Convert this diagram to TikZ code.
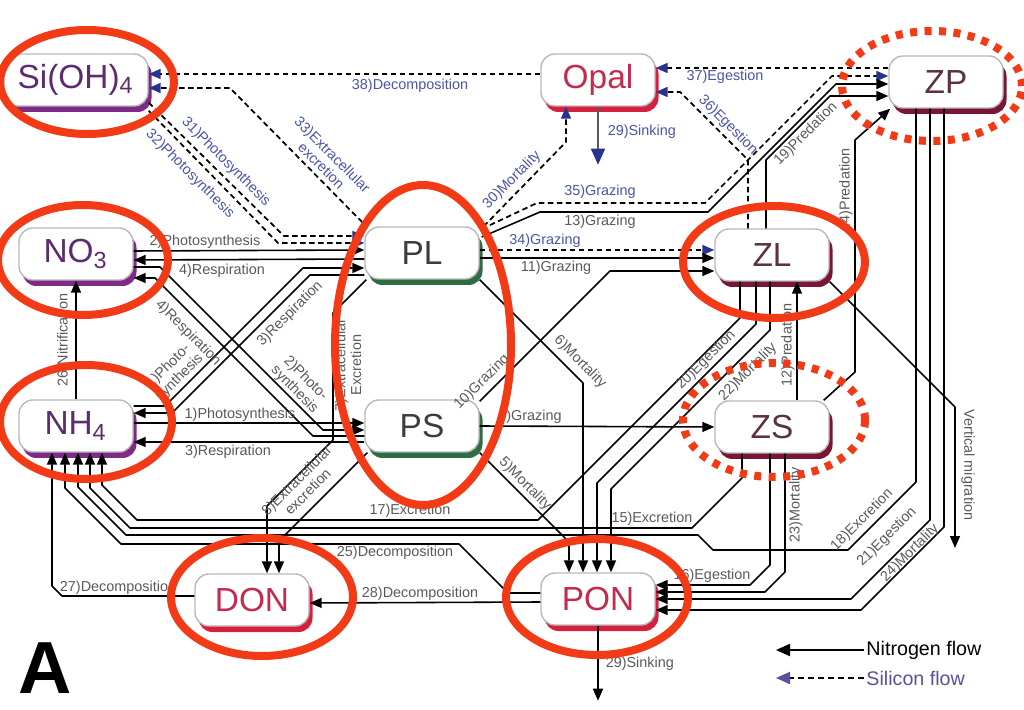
\documentclass[tikz,border=0pt]{standalone}
\usepackage{fontspec}
\setmainfont{Liberation Sans}
\usetikzlibrary{arrows.meta,calc,shadows}

\definecolor{hlred}{HTML}{F23B16}
\definecolor{nutrtext}{HTML}{5E2C6E}
\definecolor{nutrshade}{HTML}{7E2A86}
\definecolor{phytotext}{HTML}{3C3C3C}
\definecolor{phytoshade}{HTML}{2F6B43}
\definecolor{zootext}{HTML}{5C3242}
\definecolor{zooshade}{HTML}{7A1634}
\definecolor{detrtext}{HTML}{C42A4E}
\definecolor{detrshade}{HTML}{D5213F}
\definecolor{siblue}{HTML}{4A55A8}
\definecolor{sinavy}{HTML}{28338F}
\definecolor{legpurple}{HTML}{5E4E9E}
\definecolor{labgray}{HTML}{5A5A5A}

\tikzset{
  pool/.style={draw=gray!55, line width=0.4pt, fill=white, rounded corners=1.4mm,
    minimum width=11.4mm, minimum height=5.2mm, inner sep=1pt, font=\fontsize{9.5}{11}\selectfont},
  nutr/.style={pool, text=nutrtext, general shadow={fill=nutrshade, shadow xshift=0.35mm, shadow yshift=-0.6mm}},
  phyto/.style={pool, text=phytotext, general shadow={fill=phytoshade, shadow xshift=0.35mm, shadow yshift=-0.6mm}},
  zoo/.style={pool, text=zootext, general shadow={fill=zooshade, shadow xshift=0.35mm, shadow yshift=-0.6mm}},
  detr/.style={pool, text=detrtext, general shadow={fill=detrshade, shadow xshift=0.35mm, shadow yshift=-0.6mm}},
  nflow/.style={line width=0.45pt, -{Triangle[length=1.2mm, width=1.0mm]}},
  sflow/.style={line width=0.5pt, dash pattern=on 0.55mm off 0.35mm,
    -{Triangle[length=1.2mm, width=1.0mm, color=sinavy]}},
  lab/.style={font=\fontsize{4.1}{4.5}\selectfont, text=labgray, inner sep=0.3pt, align=center},
  slab/.style={lab, text=siblue},
  legtext/.style={font=\fontsize{5.6}{6.5}\selectfont, inner sep=0.5pt},
  hl/.style={draw=hlred, line width=0.8mm},
  hldot/.style={hl, dash pattern=on 0.7mm off 0.75mm},
}

\begin{document}
\begin{tikzpicture}[x=0.1mm, y=-0.1mm, line join=round]

  % canvas (pixel grid of the figure, y downwards)
  \fill[white] (0,0) rectangle (1024,710);
  \useasboundingbox (0,0) rectangle (1024,710);

  % pools
  \node[nutr, minimum width=14.4mm] (SiOH) at (76,80) {Si(OH)\textsubscript{4}};
  \node[detr] (Opal) at (598,80) {Opal};
  \node[zoo] (ZP) at (946,82) {ZP};
  \node[nutr] (NO3) at (76,254) {NO\textsubscript{3}};
  \node[phyto] (PL) at (422,253) {PL};
  \node[zoo] (ZL) at (772,255) {ZL};
  \node[nutr] (NH4) at (76,426) {NH\textsubscript{4}};
  \node[phyto] (PS) at (422,426) {PS};
  \node[zoo] (ZS) at (772,427) {ZS};
  \node[detr] (DON) at (252,600) {DON};
  \node[detr] (PON) at (598,599) {PON};

  % silicon flows
  \draw[sflow] ($(Opal.west)+(0,-6)$) -- ($(SiOH.east)+(0,-6)$);
  \node[slab] (t38) at (410,86) {38)Decomposition};
  \draw[sflow] ($(PL.north west)+(-2,-4)$) -- (230,88) -- ($(SiOH.east)+(0,8)$);
  \node[slab, rotate=-45] (t33) at (327,160) {33)Extracellular\\excretion};
  \draw[sflow] ($(SiOH.south east)+(0,-4)$) -- (284,236) -- ($(PL.west)+(0,-17)$);
  \draw[sflow] ($(SiOH.south east)+(0,4)$) -- (278,243) -- ($(PL.west)+(0,-10)$);
  \node[slab, rotate=-45] (t31) at (226,162) {31)Photosynthesis};
  \node[slab, rotate=-45] (t32) at (190,174) {32)Photosynthesis};
  \draw[sflow] ($(PL.north east)+(4,0)$) -- (566,142) -- ($(Opal.south)+(-32,0)$);
  \node[slab, rotate=45] (t30) at (512,180) {30)Mortality};
  \draw[line width=0.45pt, draw=gray!70!black, -{Triangle[length=1.6mm, width=1.4mm, color=sinavy]}]
    (Opal.south) -- ++(0,58) coordinate (opalsink);
  \node[slab, anchor=west] (t29o) at (606,132) {29)Sinking};
  \draw[sflow] ($(ZP.west)+(0,-14)$) -- ($(Opal.east)+(0,-12)$);
  \node[slab] (t37) at (725,77) {37)Egestion};
  \draw[sflow] ($(ZL.north)+(-24,0)$) -- (748,160) -- (680,92) -- ($(Opal.east)+(0,12)$);
  \node[slab, rotate=-45] (t36) at (728,125) {36)Egestion};
  \draw[sflow] ($(PL.east)+(2,-24)$) -- (537,203) -- (705,203) -- (832,76) -- ($(ZP.west)+(0,-6)$);
  \node[slab] (t35) at (600,192) {35)Grazing};
  \draw[sflow] ($(PL.east)+(0,-3)$) -- ($(ZL.west)+(0,-5)$);
  \node[slab] (t34) at (545,241) {34)Grazing};

  % nitrogen flows, nutrients <-> phytoplankton
  \draw[nflow] ($(NO3.east)+(0,-3)$) -- ($(PL.west)+(0,-3)$);
  \node[lab] (t2) at (205,242) {2)Photosynthesis};
  \draw[nflow] ($(PL.west)+(0,6)$) -- ($(NO3.east)+(0,6)$);
  \node[lab] (t4) at (222,271) {4)Respiration};
  \draw[nflow] ($(NO3.east)+(0,13)$) -- (160,267) -- (323,430) -- ($(PS.west)+(0,4)$);
  \draw[nflow] ($(PS.west)+(0,10)$) -- (313,436) -- (155,278) -- ($(NO3.east)+(0,24)$);
  \draw[nflow] ($(NH4.east)+(0,-20)$) -- (165,406) -- (303,268) -- ($(PL.west)+(0,15)$);
  \draw[nflow] ($(PL.west)+(0,22)$) -- (310,275) -- (172,413) -- ($(NH4.east)+(0,-13)$);
  \node[lab, rotate=-45] (tx4) at (188,333) {4)Respiration};
  \node[lab, rotate=-45] (tx2) at (300,384) {2)Photo-\\synthesis};
  \node[lab, rotate=45] (tx1) at (174,372) {1)Photo-\\synthesis};
  \node[lab, rotate=45] (tx3) at (290,314) {3)Respiration};
  \draw[nflow] ($(NH4.east)+(0,-3)$) -- ($(PS.west)+(0,-3)$);
  \node[lab] (t1) at (240,415) {1)Photosynthesis};
  \draw[nflow] ($(PS.west)+(0,16)$) -- ($(NH4.east)+(0,16)$);
  \node[lab] (t3) at (228,452) {3)Respiration};
  \draw[nflow] (NH4.north) -- (NO3.south);
  \node[lab, rotate=90] (t26) at (64,340) {26)Nitrification};

  % phytoplankton -> detritus
  \draw[nflow] ($(PL.south west)+(2,0)$) -- (333,313) -- (333,440) -- (267,506) -- ($(DON.north)+(15,0)$);
  \node[lab, rotate=90] (t7) at (348,365) {7)Extracellular\\Excretion};
  \draw[nflow] ($(PS.south west)+(3,0)$) -- (279,541) -- ($(DON.north)+(27,0)$);
  \node[lab, rotate=45] (t8) at (302,486) {8)Extracellular\\excretion};
  \draw[nflow] (PL.south east) -- (583,383) -- ($(PON.north)+(-15,0)$);
  \node[lab, rotate=-45] (t6) at (580,362) {6)Mortality};
  \draw[nflow] (PS.south east) -- (569,542) -- ($(PON.north)+(-29,0)$);
  \node[lab, rotate=-45] (t5) at (525,484) {5)Mortality};

  % grazing and predation
  \draw[nflow] ($(PL.east)+(2,-16)$) -- (540,212) -- (708,212) -- (836,84) -- ($(ZP.west)+(0,2)$);
  \node[lab] (t13) at (600,222) {13)Grazing};
  \draw[nflow] ($(PL.east)+(0,5)$) -- ($(ZL.west)+(0,3)$);
  \node[lab] (t11) at (556,268) {11)Grazing};
  \draw[nflow] ($(PS.north east)+(0,2)$) -- (610,271) -- ($(ZL.west)+(0,16)$);
  \node[lab, rotate=45] (t10) at (482,382) {10)Grazing};
  \draw[nflow] (PS.east) -- (ZS.west);
  \node[lab] (t9) at (530,417) {9)Grazing};
  \draw[nflow] ($(ZS.north)+(25,0)$) -- ($(ZL.south)+(25,0)$);
  \node[lab, rotate=90] (t12) at (788,345) {12)Predation};
  \draw[nflow] ($(ZL.north)+(-6,0)$) -- (766,160) -- (830,96) -- ($(ZP.west)+(0,14)$);
  \node[lab, rotate=45] (t19) at (806,134) {19)Predation};
  \draw[nflow] ($(ZS.north east)+(-6,0)$) -- (855,372) -- (855,140) -- ($(ZP.south west)+(2,0)$);
  \node[lab, rotate=90] (t14) at (846,190) {14)Predation};

  % zooplankton -> nutrients and detritus
  \draw[nflow] ($(ZL.south)+(-32,0)$) -- (740,318) -- (538,520) -- (137,520) -- (102,485) -- ($(NH4.south)+(26,0)$);
  \node[lab] (t17) at (410,511) {17)Excretion};
  \draw[nflow] ($(ZS.south)+(-30,0)$) -- (742,478) -- (692,528) -- (130,528) -- (90,488) -- ($(NH4.south)+(14,0)$);
  \node[lab] (t15) at (652,519) {15)Excretion};
  \draw[nflow] ($(ZP.south)+(-30,0)$) -- (916,482) -- (848,550) -- (713,550) -- (698,535) -- (126,535) -- (78,487) -- ($(NH4.south)+(2,0)$);
  \node[lab, rotate=45] (t18) at (862,520) {18)Excretion};
  \draw[nflow] ($(ZL.south)+(-16,0)$) -- (756,324) -- (597,483) -- ($(PON.north)+(-1,0)$);
  \draw[nflow] ($(ZL.south)+(-2,0)$) -- (770,330) -- (611,489) -- ($(PON.north)+(13,0)$);
  \node[lab, rotate=45] (t20) at (706,360) {20)Egestion};
  \node[lab, rotate=45] (t22) at (748,372) {22)Mortality};
  \draw[nflow] ($(ZS.south)+(-2,0)$) -- (770,565) -- (750,585) -- ($(PON.east)+(0,-14)$);
  \draw[nflow] ($(ZS.south)+(13,0)$) -- (785,572) -- (765,592) -- ($(PON.east)+(0,-7)$);
  \node[lab] (t16) at (712,576) {16)Egestion};
  \node[lab, rotate=90] (t23) at (796,505) {23)Mortality};
  \draw[nflow] ($(ZP.south)+(-16,0)$) -- (930,520) -- (851,599) -- (PON.east);
  \draw[nflow] ($(ZP.south)+(-2,0)$) -- (944,527) -- (861,610) -- ($(PON.east)+(0,11)$);
  \node[lab, rotate=45] (t21) at (887,537) {21)Egestion};
  \node[lab, rotate=45] (t24) at (910,553) {24)Mortality};
  \draw[nflow] (ZL.south east) -- (955,407) -- (955,548) coordinate (migend);
  \node[lab, rotate=-90] (tvm) at (968,465) {Vertical migration};

  % detritus
  \draw[nflow] ($(PON.west)+(0,-6)$) -- (508,593) -- (459,544) -- (121,544) -- (65,488) -- ($(NH4.south)+(-11,0)$);
  \node[lab] (t25) at (395,553) {25)Decomposition};
  \draw[nflow] ($(PON.west)+(0,3)$) -- ($(DON.east)+(0,3)$);
  \node[lab] (t28) at (420,594) {28)Decomposition};
  \draw[nflow] ($(DON.west)+(0,-4)$) -- (62,596) -- (52,586) -- ($(NH4.south)+(-24,0)$);
  \node[lab] (t27) at (118,588) {27)Decomposition};
  \draw[nflow] (PON.south) -- ++(0,75) coordinate (ponsink);
  \node[lab, anchor=west] (t29) at (604,664) {29)Sinking};

  % legend
  \node[legtext, anchor=west] (nleg) at (864,650) {Nitrogen flow};
  \coordinate (nlegtip) at (776,650);
  \draw[line width=0.6pt, -{Triangle[length=1.4mm, width=1.2mm]}] (nleg.west) -- (nlegtip);
  \node[legtext, anchor=west, text=legpurple] (sleg) at (864,678) {Silicon flow};
  \coordinate (slegtip) at (776,678);
  \draw[line width=0.6pt, dash pattern=on 0.6mm off 0.4mm, -{Triangle[length=1.4mm, width=1.2mm, color=legpurple]}]
    (sleg.west) -- (slegtip);

  % panel letter
  \node[font=\bfseries\fontsize{21}{21}\selectfont, inner sep=0pt] (panel) at (45,668) {A};

  % highlight rings
  \draw[hl] (87,82) ellipse [x radius=8.7mm, y radius=5.2mm];
  \draw[hl] (83,260) ellipse [x radius=8.5mm, y radius=5.5mm];
  \draw[hl] (86,422) ellipse [x radius=8.6mm, y radius=5.7mm];
  \draw[hl] (423,345) ellipse [x radius=8.8mm, y radius=16mm];
  \draw[hl] (774,262) ellipse [x radius=9.1mm, y radius=5.6mm];
  \draw[hl] (262,597) ellipse [x radius=9.1mm, y radius=5.9mm];
  \draw[hl] (597,597) ellipse [x radius=9.1mm, y radius=5.8mm];
  \draw[hldot] (774,420) ellipse [x radius=9.1mm, y radius=5.7mm];
  \draw[hldot] (932,86) ellipse [x radius=9mm, y radius=5.5mm];

\end{tikzpicture}
\end{document}
